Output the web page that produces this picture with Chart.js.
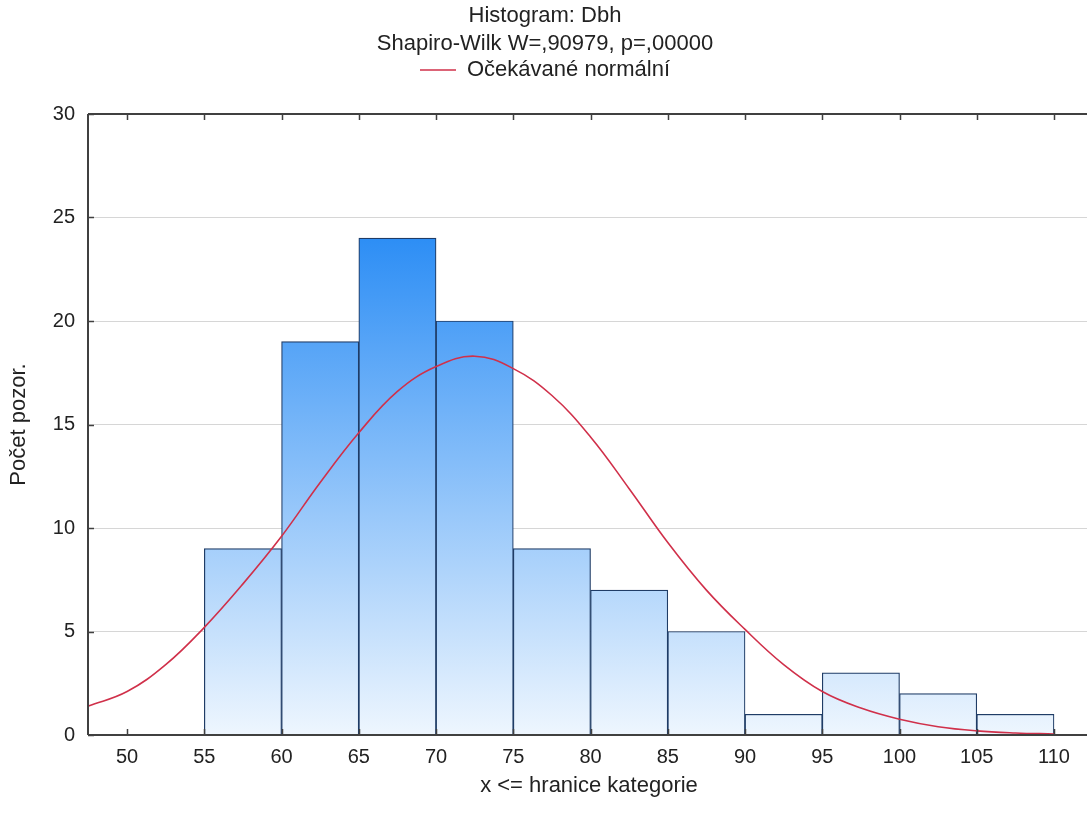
<!DOCTYPE html>
<html>
<head>
<meta charset="utf-8">
<title>Histogram: Dbh</title>
<script src="https://cdn.jsdelivr.net/npm/chart.js@4"></script>
<style>
  html, body { margin: 0; padding: 0; background: #fff; overflow: hidden; }
  #wrap { width: 1110px; height: 814px; }
</style>
</head>
<body>
<div id="wrap"><canvas id="histChart" width="1110" height="814"></canvas></div>
<script>
// Histogram bins (centre of each 5-wide class) and counts
const binCenters = [57.5, 62.5, 67.5, 72.5, 77.5, 82.5, 87.5, 92.5, 97.5, 102.5, 107.5];
const binCounts  = [9, 19, 24, 20, 9, 7, 5, 1, 3, 2, 1];

// Expected normal curve
const normalX = [47.5, 50, 52.5, 55, 57.5, 60, 62.5, 65, 67.5, 70, 72.5, 75, 77.5, 80,
                 82.5, 85, 87.5, 90, 92.5, 95, 97.5, 100, 102.5, 105, 107.5, 110];
const normalY = [1.4, 2.1, 3.4, 5.2, 7.3, 9.6, 12.2, 14.6, 16.6, 17.8, 18.3, 17.7, 16.4, 14.4,
                 11.9, 9.3, 7.0, 5.1, 3.4, 2.1, 1.3, 0.76, 0.4, 0.2, 0.1, 0.05];

// Tick labels
const xTicks = [50, 55, 60, 65, 70, 75, 80, 85, 90, 95, 100, 105, 110];
const yTicks = [0, 5, 10, 15, 20, 25, 30];

const FONT = 'Arial, "Liberation Sans", sans-serif';
const TEXT = '#222222';
const FRAME = '#404040';

// bars get one vertical gradient over the plot, dark at the top of the tallest bar
function barGradient(context) {
    const chart = context.chart;
    if (!chart.chartArea) return '#8fc0f5';
    const y = chart.scales.y;
    const g = chart.ctx.createLinearGradient(0, y.getPixelForValue(0), 0, y.getPixelForValue(24));
    g.addColorStop(0, '#eef6fe');
    g.addColorStop(1, '#2d8ef5');
    return g;
}

// plot frame with inward tick marks (left, top, bottom)
const framePlugin = {
    id: 'frame',
    afterDatasetsDraw(chart) {
        const { ctx, chartArea: a, scales } = chart;
        ctx.save();
        ctx.strokeStyle = FRAME;
        ctx.lineWidth = 2;
        ctx.beginPath();
        ctx.moveTo(a.left, a.top);
        ctx.lineTo(a.right, a.top);
        ctx.moveTo(a.left, a.top);
        ctx.lineTo(a.left, a.bottom);
        ctx.moveTo(a.left, a.bottom);
        ctx.lineTo(a.right, a.bottom);
        ctx.stroke();

        ctx.lineWidth = 1.5;
        ctx.beginPath();
        xTicks.forEach(v => {
            const px = Math.round(scales.x.getPixelForValue(v)) + 0.5;
            ctx.moveTo(px, a.bottom);
            ctx.lineTo(px, a.bottom - 6);
            ctx.moveTo(px, a.top);
            ctx.lineTo(px, a.top + 6);
        });
        yTicks.forEach(v => {
            const py = Math.round(scales.y.getPixelForValue(v)) + 0.5;
            ctx.moveTo(a.left, py);
            ctx.lineTo(a.left + 6, py);
        });
        ctx.stroke();
        ctx.restore();
    }
};

const ctx = document.getElementById('histChart').getContext('2d');
new Chart(ctx, {
    data: {
        datasets: [
            {
                type: 'bar',
                label: 'Dbh',
                data: binCenters.map((x, i) => ({ x: x, y: binCounts[i] })),
                backgroundColor: barGradient,
                borderColor: '#1f3c66',
                borderWidth: 1.2,
                borderSkipped: 'start',
                barPercentage: 1.0,
                categoryPercentage: 1.0,
                order: 2
            },
            {
                type: 'line',
                label: 'Očekávané normální',
                data: normalX.map((x, i) => ({ x: x, y: normalY[i] })),
                borderColor: '#d0304a',
                borderWidth: 1.6,
                pointRadius: 0,
                fill: false,
                tension: 0.4,
                order: 1
            }
        ]
    },
    options: {
        responsive: false,
        animation: false,
        devicePixelRatio: 1,
        layout: { padding: { left: 0, right: 20, top: 0, bottom: 0 } },
        plugins: {
            title: {
                display: true,
                text: ['Histogram: Dbh', 'Shapiro-Wilk W=,90979, p=,00000'],
                color: TEXT,
                font: { family: FONT, size: 22, weight: 'normal', lineHeight: 28 / 22 },
                padding: { top: 2, bottom: -21 }
            },
            legend: {
                display: true,
                position: 'top',
                labels: {
                    filter: item => item.datasetIndex === 1,
                    usePointStyle: true,
                    pointStyle: 'line',
                    pointStyleWidth: 36,
                    color: TEXT,
                    font: { family: FONT, size: 22 },
                    padding: 22
                }
            },
            tooltip: { enabled: false }
        },
        scales: {
            x: {
                type: 'linear',
                min: 47.47,
                max: 112.33,
                offset: false,
                afterBuildTicks: scale => { scale.ticks = xTicks.map(v => ({ value: v })); },
                afterFit: scale => { scale.height = 79; },
                grid: { display: false, drawTicks: false, offset: false },
                border: { display: false },
                ticks: {
                    autoSkip: false,
                    maxRotation: 0,
                    padding: 10,
                    color: TEXT,
                    font: { family: FONT, size: 20 }
                },
                title: {
                    display: true,
                    text: 'x <= hranice kategorie',
                    color: TEXT,
                    font: { family: FONT, size: 22 },
                    padding: { top: 4, bottom: 15 }
                }
            },
            // empty top axis, only keeps the gap between legend and plot
            xTop: {
                type: 'linear',
                position: 'top',
                min: 47.47,
                max: 112.33,
                afterFit: scale => { scale.height = 23; },
                grid: { display: false, drawTicks: false },
                border: { display: false },
                ticks: { display: false }
            },
            y: {
                type: 'linear',
                min: 0,
                max: 30,
                afterBuildTicks: scale => { scale.ticks = yTicks.map(v => ({ value: v })); },
                afterFit: scale => { scale.width = 88; },
                grid: {
                    drawTicks: false,
                    color: c => (c.tick && (c.tick.value === 0 || c.tick.value === 30)) ? 'rgba(0,0,0,0)' : '#d6d6d6',
                    lineWidth: 1
                },
                border: { display: false },
                ticks: {
                    padding: 13,
                    color: TEXT,
                    font: { family: FONT, size: 20 }
                },
                title: {
                    display: true,
                    text: 'Počet pozor.',
                    color: TEXT,
                    font: { family: FONT, size: 22 },
                    padding: { top: 6, bottom: 4 }
                }
            }
        }
    },
    plugins: [framePlugin]
});
</script>
</body>
</html>
